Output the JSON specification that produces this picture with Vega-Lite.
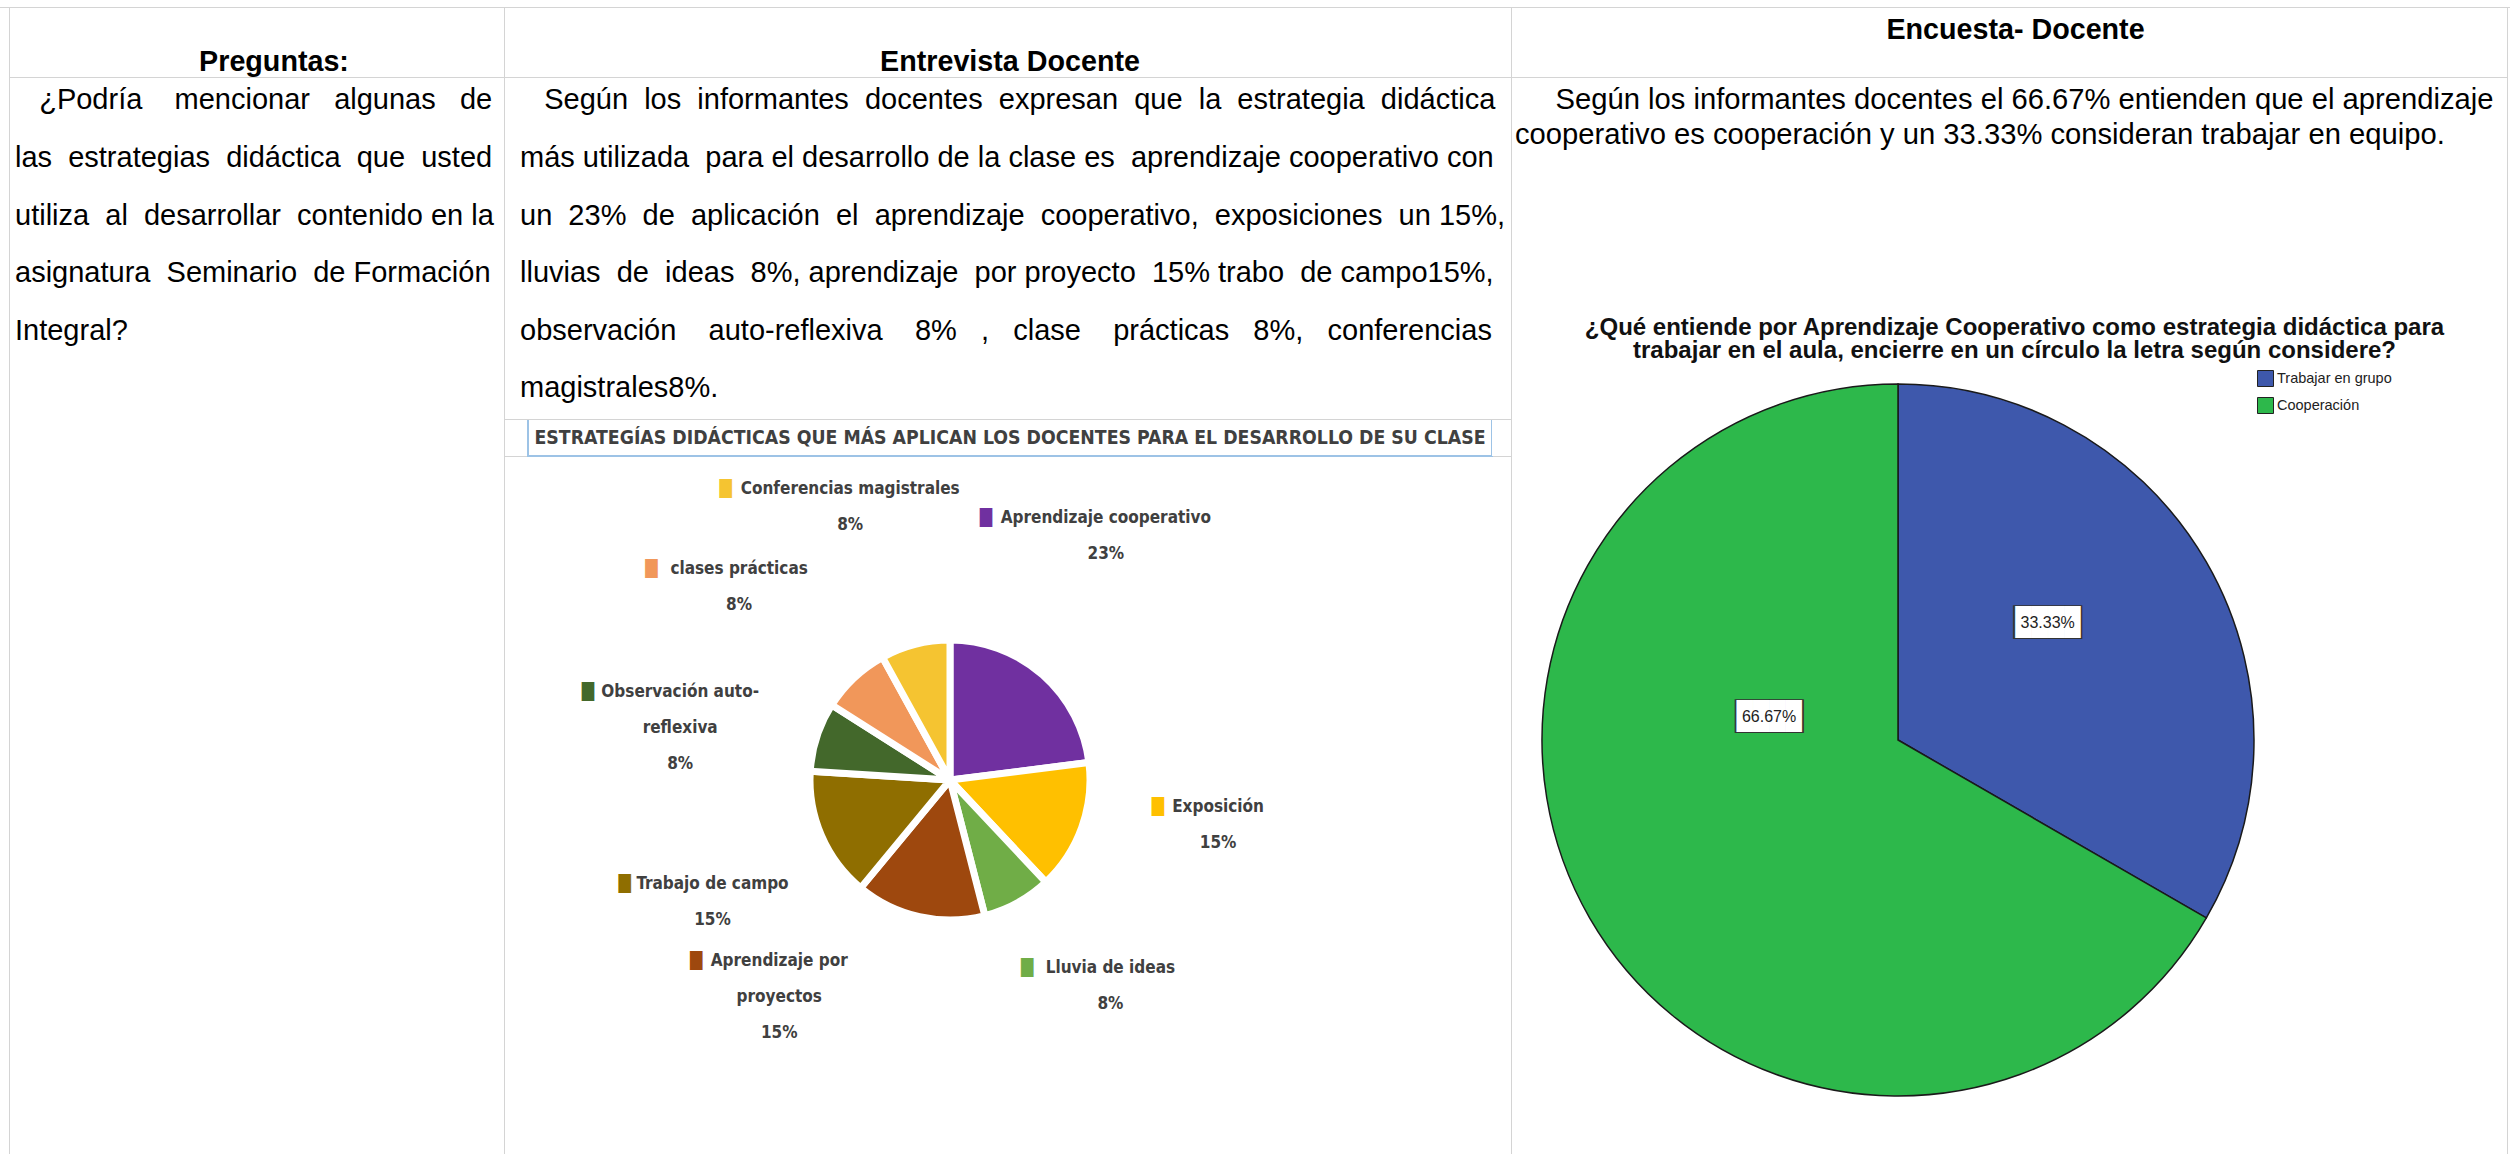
{
  "$schema": "https://vega.github.io/schema/vega-lite/v6.json",
  "padding": 0,
  "background": "#d4d4d4",
  "spacing": 1,
  "bounds": "full",
  "config": {"view": {"stroke": null}, "font": "Liberation Sans"},
  "vconcat": [
    {"width": 2515, "height": 7, "data": {"values": [{}]}, "mark": {"type": "rect", "fill": "white"}},
    {
      "hconcat": [
        {"width": 9, "height": 1167, "data": {"values": [{}]}, "mark": {"type": "rect", "fill": "white"}},
        {
          "vconcat": [
            {"width": 494, "height": 69, "data": {"values": [{"h": "Preguntas:"}]},
             "layer": [
               {"mark": {"type": "rect", "fill": "white"}},
               {"mark": {"type": "text", "font": "Liberation Sans", "fontSize": 28.7, "fontWeight": "bold", "baseline": "alphabetic", "dx": 17, "dy": 28, "color": "#000"},
                "encoding": {"text": {"field": "h", "type": "nominal"}}}
             ]},
            {"width": 494, "height": 1097, "data": {"values": [{}]}, "mark": {"type": "rect", "fill": "white"},
             "title": {"text": ["\u200b\u00a0\u00a0\u00a0¿Podría\u00a0\u00a0\u00a0 mencionar\u00a0\u00a0 algunas\u00a0\u00a0 de", "las\u00a0 estrategias\u00a0 didáctica\u00a0 que\u00a0 usted", "utiliza\u00a0 al\u00a0 desarrollar\u00a0 contenido en la", "asignatura\u00a0 Seminario\u00a0 de Formación", "Integral?"],
                       "orient": "bottom", "anchor": "start", "frame": "group", "baseline": "top", "offset": -1088.6, "dx": 5,
                       "font": "Liberation Sans", "fontSize": 29, "fontWeight": "normal", "lineHeight": 57.6, "color": "#000"}}
          ],
          "spacing": 1, "bounds": "flush"
        },
        {
          "vconcat": [
            {"width": 1006, "height": 69, "data": {"values": [{"h": "Entrevista Docente"}]},
             "layer": [
               {"mark": {"type": "rect", "fill": "white"}},
               {"mark": {"type": "text", "font": "Liberation Sans", "fontSize": 28.7, "fontWeight": "bold", "baseline": "alphabetic", "dx": 2, "dy": 28, "color": "#000"},
                "encoding": {"text": {"field": "h", "type": "nominal"}}}
             ]},
            {
              "vconcat": [
                {"width": 1006, "height": 341, "data": {"values": [{}]}, "mark": {"type": "rect", "fill": "white"},
                 "title": {"text": ["\u200b\u00a0\u00a0\u00a0Según\u00a0 los\u00a0 informantes\u00a0 docentes\u00a0 expresan\u00a0 que\u00a0 la\u00a0 estrategia\u00a0 didáctica", "más utilizada\u00a0 para el desarrollo de la clase es\u00a0 aprendizaje cooperativo con", "un\u00a0 23%\u00a0 de\u00a0 aplicación\u00a0 el\u00a0 aprendizaje\u00a0 cooperativo,\u00a0 exposiciones\u00a0 un 15%,", "lluvias\u00a0 de\u00a0 ideas\u00a0 8%, aprendizaje\u00a0 por proyecto\u00a0 15% trabo\u00a0 de campo15%,", "observación\u00a0\u00a0\u00a0 auto-reflexiva\u00a0\u00a0\u00a0 8%\u00a0\u00a0 ,\u00a0\u00a0 clase\u00a0\u00a0\u00a0 prácticas\u00a0\u00a0 8%,\u00a0\u00a0 conferencias", "magistrales8%."],
                           "orient": "bottom", "anchor": "start", "frame": "group", "baseline": "top", "offset": -332.6, "dx": 15,
                           "font": "Liberation Sans", "fontSize": 29, "fontWeight": "normal", "lineHeight": 57.6, "color": "#000"}},
                {
                  "hconcat": [
                    {"width": 23, "height": 36, "data": {"values": [{}]}, "mark": {"type": "rect", "fill": "white"}},
                    {"width": 964, "height": 36,
                     "data": {"values": [{"t": "ESTRATEGÍAS DIDÁCTICAS QUE MÁS APLICAN LOS DOCENTES PARA EL DESARROLLO DE SU CLASE"}]},
                     "layer": [
                       {"mark": {"type": "rect", "fill": "white", "stroke": "#9DC3E6", "strokeWidth": 2, "strokeDash": [0, 964, 1036, 0]}},
                       {"mark": {"type": "text", "font": "DejaVu Sans Condensed, DejaVu Sans, sans-serif", "fontWeight": "bold", "fontSize": 19.3, "color": "#404040"},
                        "encoding": {"text": {"field": "t", "type": "nominal"}}}
                     ]},
                    {"width": 19, "height": 36, "data": {"values": [{}]}, "mark": {"type": "rect", "fill": "white"}}
                  ],
                  "spacing": 0, "bounds": "flush"
                },
                {
                  "hconcat": [
                    {"width": 890, "height": 646,
                     "data": {"values": [
                       {"cat": "Aprendizaje cooperativo", "l1": "Aprendizaje cooperativo", "lab": "Aprendizaje cooperativo\n23%", "pct": 23, "o": 1},
                       {"cat": "Exposición", "l1": "Exposición", "lab": "Exposición\n15%", "pct": 15, "o": 2},
                       {"cat": "Lluvia de ideas", "l1": "Lluvia de ideas", "lab": "Lluvia de ideas\n8%", "pct": 8, "o": 3},
                       {"cat": "Aprendizaje por proyectos", "l1": "Aprendizaje por", "lab": "Aprendizaje por\nproyectos\n15%", "pct": 15, "o": 4},
                       {"cat": "Trabajo de campo", "l1": "Trabajo de campo", "lab": "Trabajo de campo\n15%", "pct": 15, "o": 5},
                       {"cat": "Observación auto-reflexiva", "l1": "Observación auto-", "lab": "Observación auto-\nreflexiva\n8%", "pct": 8, "o": 6},
                       {"cat": "clases prácticas", "l1": "clases prácticas", "lab": "clases prácticas\n8%", "pct": 8, "o": 7},
                       {"cat": "Conferencias magistrales", "l1": "Conferencias magistrales", "lab": "Conferencias magistrales\n8%", "pct": 8, "o": 8}
                     ]},
                     "layer": [
                       {"data": {"values": [{}]}, "mark": {"type": "rect", "fill": "white"}},
                       {"mark": {"type": "arc", "outerRadius": 140, "stroke": "white", "strokeWidth": 7},
                        "encoding": {
                          "theta": {"field": "pct", "type": "quantitative", "stack": true},
                          "order": {"field": "o", "type": "quantitative"},
                          "color": {"field": "cat", "type": "nominal", "legend": null,
                                    "scale": {"domain": ["Aprendizaje cooperativo", "Exposición", "Lluvia de ideas", "Aprendizaje por proyectos", "Trabajo de campo", "Observación auto-reflexiva", "clases prácticas", "Conferencias magistrales"],
                                              "range": ["#7030A0", "#FFC000", "#70AD47", "#9E480E", "#8F6E00", "#43682B", "#F1975A", "#F5C431"]}}
                        }},
                       {"mark": {"type": "text", "radius": 275, "thetaOffset": {"expr": "datum.o == 4 ? 0.45 : -0.12"}, "dy": -35, "font": "DejaVu Sans Condensed, DejaVu Sans, sans-serif", "fontWeight": "bold", "fontSize": 17, "lineBreak": "\n", "lineHeight": 36, "align": "center", "baseline": "middle", "color": "#404040"},
                        "encoding": {
                          "theta": {"field": "pct", "type": "quantitative", "stack": true},
                          "order": {"field": "o", "type": "quantitative"},
                          "detail": {"field": "cat", "type": "nominal"},
                          "text": {"field": "lab", "type": "nominal"}
                        }},
                       {"mark": {"type": "text", "radius": 275, "thetaOffset": {"expr": "datum.o == 4 ? 0.45 : -0.12"}, "dy": -35, "text": "█", "font": "DejaVu Sans", "fontSize": 16, "align": "right", "baseline": "middle", "dx": {"expr": "-length(datum.l1)*4.6 - 8"}},
                        "encoding": {
                          "theta": {"field": "pct", "type": "quantitative", "stack": true},
                          "order": {"field": "o", "type": "quantitative"},
                          "color": {"field": "cat", "type": "nominal", "legend": null}
                        }}
                     ]},
                    {"width": 116, "height": 646, "data": {"values": [{}]}, "mark": {"type": "rect", "fill": "white"}}
                  ],
                  "spacing": 0, "bounds": "flush"
                },
                {"width": 1006, "height": 74, "data": {"values": [{}]}, "mark": {"type": "rect", "fill": "white"}}
              ],
              "spacing": 0, "bounds": "full"
            }
          ],
          "spacing": 1, "bounds": "full"
        },
        {
          "vconcat": [
            {"width": 995, "height": 69, "data": {"values": [{"h": "Encuesta- Docente"}]},
             "layer": [
               {"mark": {"type": "rect", "fill": "white"}},
               {"mark": {"type": "text", "font": "Liberation Sans", "fontSize": 28.7, "fontWeight": "bold", "baseline": "alphabetic", "dx": 6, "dy": -3.5, "color": "#000"},
                "encoding": {"text": {"field": "h", "type": "nominal"}}}
             ]},
            {
              "vconcat": [
                {"width": 995, "height": 222, "data": {"values": [{}]}, "mark": {"type": "rect", "fill": "white"},
                 "title": {"text": ["\u200b\u00a0\u00a0\u00a0\u00a0\u00a0Según los informantes docentes el 66.67% entienden que el aprendizaje", "cooperativo es cooperación y un 33.33% consideran trabajar en equipo."],
                           "orient": "bottom", "anchor": "start", "frame": "group", "baseline": "top", "offset": -213.6, "dx": 3,
                           "font": "Liberation Sans", "fontSize": 29.2, "fontWeight": "normal", "lineHeight": 35, "color": "#000"}},
                {"width": 995, "height": 64, "data": {"values": [{}]}, "mark": {"type": "rect", "fill": "white"},
                 "title": {"text": ["¿Qué entiende por Aprendizaje Cooperativo como estrategia didáctica para", "trabajar en el aula, encierre en un círculo la letra según considere?"],
                           "orient": "bottom", "anchor": "middle", "frame": "group", "baseline": "top", "offset": -47.6, "dx": 5,
                           "font": "Liberation Sans", "fontSize": 24, "fontWeight": "bold", "lineHeight": 22.5, "color": "#111"}},
                {
                  "hconcat": [
                    {"width": 772, "height": 752,
                     "data": {"values": [
                       {"grp": "Trabajar en grupo", "pct": 33.33, "lbl": "33.33%", "o": 1},
                       {"grp": "Cooperación", "pct": 66.67, "lbl": "66.67%", "o": 2}
                     ]},
                     "layer": [
                       {"data": {"values": [{}]}, "mark": {"type": "rect", "fill": "white"}},
                       {"mark": {"type": "arc", "outerRadius": 356, "stroke": "#1a1a1a", "strokeWidth": 1.5},
                        "encoding": {
                          "theta": {"field": "pct", "type": "quantitative", "stack": true},
                          "order": {"field": "o", "type": "quantitative"},
                          "color": {"field": "grp", "type": "nominal",
                                    "scale": {"domain": ["Trabajar en grupo", "Cooperación"], "range": ["#3E58AC", "#2DB84B"]},
                                    "legend": {"orient": "none", "legendX": 745, "legendY": 362, "title": null, "symbolType": "square", "symbolSize": 256,
                                               "symbolStrokeColor": "#222", "symbolStrokeWidth": 1, "symbolOpacity": 1, "labelFont": "Liberation Sans", "labelFontSize": 14.5,
                                               "labelColor": "#222", "rowPadding": 6, "padding": 0, "labelOffset": 3}}
                        }},
                       {"mark": {"type": "text", "radius": {"expr": "datum.o == 2 ? 131 : 190"}, "thetaOffset": {"expr": "datum.o == 2 ? 0.70 : -0.14"}, "text": "████", "font": "DejaVu Sans Mono", "fontSize": 28.5, "align": "center", "baseline": "middle", "color": "#333333"},
                        "encoding": {
                          "theta": {"field": "pct", "type": "quantitative", "stack": true},
                          "order": {"field": "o", "type": "quantitative"},
                          "detail": {"field": "grp", "type": "nominal"}
                        }},
                       {"mark": {"type": "text", "radius": {"expr": "datum.o == 2 ? 131 : 190"}, "thetaOffset": {"expr": "datum.o == 2 ? 0.70 : -0.14"}, "text": "████", "font": "DejaVu Sans Mono", "fontSize": 27, "align": "center", "baseline": "middle", "color": "#ffffff"},
                        "encoding": {
                          "theta": {"field": "pct", "type": "quantitative", "stack": true},
                          "order": {"field": "o", "type": "quantitative"},
                          "detail": {"field": "grp", "type": "nominal"}
                        }},
                       {"mark": {"type": "text", "radius": {"expr": "datum.o == 2 ? 131 : 190"}, "thetaOffset": {"expr": "datum.o == 2 ? 0.70 : -0.14"}, "font": "Liberation Sans", "fontSize": 16, "align": "center", "baseline": "middle", "color": "#222"},
                        "encoding": {
                          "theta": {"field": "pct", "type": "quantitative", "stack": true},
                          "order": {"field": "o", "type": "quantitative"},
                          "detail": {"field": "grp", "type": "nominal"},
                          "text": {"field": "lbl", "type": "nominal"}
                        }}
                     ]},
                    {"width": 223, "height": 752, "data": {"values": [{}]}, "mark": {"type": "rect", "fill": "white"}}
                  ],
                  "spacing": 0, "bounds": "flush"
                },
                {"width": 995, "height": 59, "data": {"values": [{}]}, "mark": {"type": "rect", "fill": "white"}}
              ],
              "spacing": 0, "bounds": "full"
            }
          ],
          "spacing": 1, "bounds": "full"
        },
        {"width": 7, "height": 1167, "data": {"values": [{}]}, "mark": {"type": "rect", "fill": "white"}}
      ],
      "spacing": 1, "bounds": "full",
      "resolve": {"scale": {"color": "independent", "theta": "independent"}, "legend": {"color": "independent"}}
    }
  ]
}
